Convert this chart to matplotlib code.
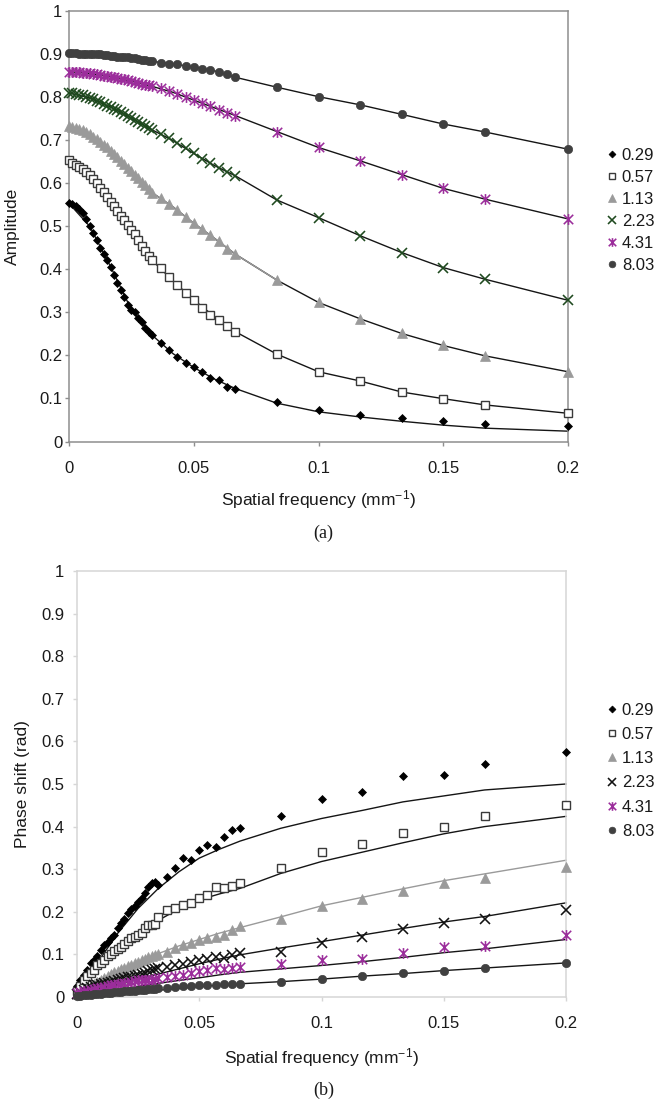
import matplotlib
matplotlib.use("Agg")
import matplotlib.pyplot as plt
from matplotlib.path import Path
from matplotlib.lines import Line2D

plt.rcParams['font.family'] = ['Liberation Sans', 'DejaVu Sans']
plt.rcParams['mathtext.fontset'] = 'custom'
plt.rcParams['mathtext.rm'] = 'Liberation Sans'
plt.rcParams['mathtext.it'] = 'Liberation Sans:italic'
plt.rcParams['mathtext.bf'] = 'Liberation Sans:bold'

# ---------------- data ----------------
freq = [0, 0.0014, 0.0028, 0.0042, 0.0056, 0.0069, 0.0083, 0.0097, 0.0111, 0.0125,
        0.0139, 0.0153, 0.0167, 0.0181, 0.0194, 0.0208, 0.0222, 0.0236, 0.025, 0.0264,
        0.0278, 0.0292, 0.0306, 0.0319, 0.0333, 0.0367, 0.04, 0.0433, 0.0467, 0.05,
        0.0533, 0.0567, 0.06, 0.0633, 0.0667, 0.0833, 0.1, 0.1167, 0.1333, 0.15,
        0.1667, 0.2]
fit_freq = [0, 0.0083, 0.0167, 0.025, 0.0333, 0.0417, 0.05, 0.0583, 0.0667, 0.0833,
            0.1, 0.1167, 0.1333, 0.15, 0.1667, 0.2]
series_labels = ['0.29', '0.57', '1.13', '2.23', '4.31', '8.03']

# (a) amplitude, measured
amp_029 = [0.553, 0.551, 0.547, 0.541, 0.530, 0.516, 0.500, 0.484, 0.467, 0.450,
           0.436, 0.421, 0.406, 0.387, 0.369, 0.352, 0.335, 0.318, 0.306, 0.301,
           0.287, 0.277, 0.264, 0.255, 0.247, 0.229, 0.2125, 0.196, 0.182, 0.172,
           0.162, 0.148, 0.142, 0.127, 0.123, 0.091, 0.0725, 0.061, 0.054, 0.048,
           0.040, 0.036]
amp_057 = [0.655, 0.648, 0.643, 0.638, 0.634, 0.627, 0.619, 0.610, 0.600, 0.590,
           0.579, 0.568, 0.557, 0.546, 0.535, 0.524, 0.514, 0.503, 0.492, 0.481,
           0.469, 0.455, 0.442, 0.430, 0.421, 0.402, 0.383, 0.363, 0.345, 0.329,
           0.309, 0.294, 0.282, 0.268, 0.255, 0.203, 0.162, 0.1405, 0.115, 0.0995,
           0.085, 0.0655]
amp_113 = [0.733, 0.731, 0.729, 0.726, 0.723, 0.720, 0.714, 0.708, 0.703, 0.696,
           0.689, 0.683, 0.675, 0.667, 0.660, 0.652, 0.644, 0.636, 0.628, 0.620,
           0.611, 0.603, 0.595, 0.587, 0.578, 0.566, 0.551, 0.538, 0.522, 0.507,
           0.494, 0.479, 0.465, 0.447, 0.435, 0.375, 0.323, 0.285, 0.251, 0.223,
           0.199, 0.162]
amp_223 = [0.810, 0.809, 0.808, 0.806, 0.804, 0.801, 0.798, 0.795, 0.792, 0.788,
           0.784, 0.780, 0.777, 0.773, 0.769, 0.765, 0.760, 0.756, 0.751, 0.747,
           0.742, 0.738, 0.733, 0.729, 0.724, 0.714, 0.704, 0.693, 0.681, 0.669,
           0.657, 0.646, 0.635, 0.626, 0.617, 0.561, 0.520, 0.478, 0.439, 0.404,
           0.377, 0.328]
amp_431 = [0.859, 0.859, 0.858, 0.858, 0.857, 0.856, 0.855, 0.854, 0.853, 0.851,
           0.850, 0.849, 0.847, 0.846, 0.844, 0.843, 0.841, 0.839, 0.837, 0.835,
           0.833, 0.831, 0.829, 0.827, 0.825, 0.820, 0.815, 0.808, 0.800, 0.793,
           0.786, 0.779, 0.771, 0.764, 0.757, 0.720, 0.683, 0.652, 0.620, 0.588,
           0.563, 0.517]
amp_803 = [0.902, 0.902, 0.902, 0.901, 0.901, 0.901, 0.900, 0.900, 0.899, 0.899,
           0.898, 0.897, 0.896, 0.895, 0.894, 0.894, 0.893, 0.892, 0.891, 0.890,
           0.889, 0.887, 0.886, 0.885, 0.883, 0.880, 0.878, 0.876, 0.873, 0.870,
           0.866, 0.863, 0.858, 0.853, 0.846, 0.823, 0.801, 0.782, 0.760, 0.7375,
           0.719, 0.679]

# (a) amplitude, fitted model
amp_fit_029 = [0.553, 0.500, 0.406, 0.306, 0.247, 0.204, 0.172, 0.145, 0.123, 0.089,
               0.069, 0.057, 0.047, 0.038, 0.031, 0.024]
amp_fit_057 = [0.655, 0.619, 0.557, 0.492, 0.421, 0.373, 0.329, 0.290, 0.255, 0.203,
               0.162, 0.1405, 0.115, 0.0995, 0.085, 0.0655]
amp_fit_113 = [0.733, 0.714, 0.675, 0.628, 0.578, 0.545, 0.507, 0.472, 0.435, 0.375,
               0.323, 0.285, 0.251, 0.223, 0.199, 0.162]
amp_fit_223 = [0.810, 0.798, 0.777, 0.751, 0.724, 0.699, 0.669, 0.641, 0.617, 0.561,
               0.520, 0.478, 0.439, 0.404, 0.377, 0.328]
amp_fit_431 = [0.859, 0.855, 0.847, 0.837, 0.825, 0.811, 0.793, 0.775, 0.757, 0.720,
               0.683, 0.652, 0.620, 0.588, 0.563, 0.517]
amp_fit_803 = [0.902, 0.900, 0.896, 0.891, 0.883, 0.877, 0.870, 0.861, 0.846, 0.823,
               0.801, 0.782, 0.760, 0.7375, 0.719, 0.679]

# (b) phase shift, measured
ph_029 = [0.025, 0.040, 0.052, 0.063, 0.080, 0.088, 0.096, 0.111, 0.122, 0.130,
          0.138, 0.145, 0.163, 0.174, 0.183, 0.198, 0.207, 0.214, 0.223, 0.232,
          0.243, 0.258, 0.268, 0.270, 0.263, 0.282, 0.302, 0.326, 0.322, 0.345,
          0.357, 0.352, 0.376, 0.393, 0.396, 0.426, 0.464, 0.4805, 0.518, 0.521,
          0.547, 0.576]
ph_057 = [0.015, 0.025, 0.040, 0.050, 0.057, 0.064, 0.074, 0.080, 0.088, 0.096,
          0.102, 0.108, 0.112, 0.118, 0.125, 0.131, 0.138, 0.142, 0.146, 0.151,
          0.161, 0.168, 0.170, 0.172, 0.187, 0.204, 0.208, 0.216, 0.220, 0.232,
          0.240, 0.259, 0.255, 0.261, 0.267, 0.3035, 0.341, 0.359, 0.384, 0.400,
          0.425, 0.451]
ph_113 = [0.008, 0.012, 0.016, 0.020, 0.025, 0.030, 0.036, 0.041, 0.045, 0.049,
          0.053, 0.059, 0.062, 0.066, 0.069, 0.072, 0.075, 0.079, 0.082, 0.086,
          0.089, 0.094, 0.097, 0.099, 0.102, 0.106, 0.114, 0.121, 0.126, 0.133,
          0.138, 0.142, 0.146, 0.157, 0.166, 0.183, 0.2136, 0.229, 0.249, 0.268,
          0.2786, 0.306]
ph_223 = [0.008, 0.012, 0.016, 0.020, 0.024, 0.027, 0.029, 0.031, 0.032, 0.034,
          0.036, 0.038, 0.040, 0.042, 0.044, 0.046, 0.048, 0.049, 0.051, 0.053,
          0.057, 0.061, 0.064, 0.065, 0.067, 0.070, 0.074, 0.078, 0.082, 0.087,
          0.090, 0.095, 0.092, 0.099, 0.103, 0.106, 0.126, 0.140, 0.160, 0.173,
          0.183, 0.204]
ph_431 = [0.010, 0.012, 0.013, 0.015, 0.017, 0.018, 0.020, 0.022, 0.024, 0.026,
          0.028, 0.029, 0.030, 0.031, 0.032, 0.033, 0.035, 0.037, 0.039, 0.040,
          0.041, 0.041, 0.041, 0.042, 0.044, 0.048, 0.050, 0.052, 0.056, 0.060,
          0.063, 0.067, 0.065, 0.067, 0.071, 0.0775, 0.0869, 0.0884, 0.1025, 0.118,
          0.1205, 0.1455]
ph_803 = [0.002, 0.003, 0.004, 0.005, 0.005, 0.006, 0.007, 0.008, 0.009, 0.009,
          0.010, 0.011, 0.012, 0.012, 0.013, 0.014, 0.014, 0.015, 0.016, 0.016,
          0.017, 0.018, 0.018, 0.019, 0.020, 0.021, 0.023, 0.025, 0.026, 0.027,
          0.028, 0.029, 0.030, 0.031, 0.031, 0.0345, 0.0423, 0.050, 0.0556, 0.0618,
          0.0689, 0.0806]

# (b) phase shift, fitted model
ph_fit_029 = [0.010, 0.080, 0.150, 0.208, 0.255, 0.294, 0.326, 0.347, 0.366, 0.396,
              0.419, 0.438, 0.458, 0.472, 0.486, 0.500]
ph_fit_057 = [0.0, 0.064, 0.112, 0.150, 0.180, 0.207, 0.228, 0.242, 0.255, 0.290,
              0.318, 0.340, 0.362, 0.383, 0.400, 0.424]
ph_fit_113 = [0.0, 0.030, 0.058, 0.082, 0.102, 0.120, 0.135, 0.150, 0.163, 0.188,
              0.214, 0.234, 0.254, 0.273, 0.289, 0.321]
ph_fit_223 = [0.0, 0.015, 0.029, 0.042, 0.054, 0.066, 0.078, 0.089, 0.099, 0.115,
              0.130, 0.1455, 0.161, 0.176, 0.189, 0.221]
ph_fit_431 = [0.0, 0.009, 0.017, 0.025, 0.032, 0.039, 0.045, 0.052, 0.058, 0.066,
              0.074, 0.083, 0.093, 0.104, 0.113, 0.135]
ph_fit_803 = [0.0, 0.004, 0.008, 0.012, 0.016, 0.020, 0.024, 0.028, 0.031, 0.036,
              0.042, 0.049, 0.055, 0.062, 0.068, 0.080]

x_ticks = [0, 0.05, 0.1, 0.15, 0.2]
x_ticklabels = ['0', '0.05', '0.1', '0.15', '0.2']
y_ticks = [0, 0.1, 0.2, 0.3, 0.4, 0.5, 0.6, 0.7, 0.8, 0.9, 1.0]
y_ticklabels = ['0', '0.1', '0.2', '0.3', '0.4', '0.5', '0.6', '0.7', '0.8', '0.9', '1']

# ---------------- styles ----------------
star = Path([(-1, -1), (1, 1), (-1, 1), (1, -1), (0, -1.15), (0, 1.15)],
            [Path.MOVETO, Path.LINETO, Path.MOVETO, Path.LINETO, Path.MOVETO, Path.LINETO])
PURPLE = '#9b2d9b'
GREEN = '#1f4a1f'


def styles(panel, scale=1.0):
    x_col = GREEN if panel == 'a' else '#111111'
    return [
        dict(marker='D', ms=4.4 * scale, mfc='#000000', mec='#000000', mew=0.5),
        dict(marker='s', ms=5.3 * scale, mfc='white', mec='#3a3a3a', mew=1.0),
        dict(marker='^', ms=7.0 * scale, mfc='#9a9a9a', mec='#9a9a9a', mew=0.5),
        dict(marker='x', ms=7.4 * scale, mfc='none', mec=x_col, mew=1.15),
        dict(marker=star, ms=7.8 * scale, mfc='none', mec=PURPLE, mew=1.15),
        dict(marker='o', ms=6.0 * scale, mfc='#404040', mec='#404040', mew=0.5),
    ]


W, H = 659, 1100
fig = plt.figure(figsize=(W / 100, H / 100), dpi=100)


def px_axes(l, r, t, b):
    return fig.add_axes([l / W, 1 - b / H, (r - l) / W, (b - t) / H])


ax_a = px_axes(69, 568, 11, 441.5)
ax_b = px_axes(77, 566, 571, 997)

amp_data = [amp_029, amp_057, amp_113, amp_223, amp_431, amp_803]
amp_fit = [amp_fit_029, amp_fit_057, amp_fit_113, amp_fit_223, amp_fit_431, amp_fit_803]
ph_data = [ph_029, ph_057, ph_113, ph_223, ph_431, ph_803]
ph_fit = [ph_fit_029, ph_fit_057, ph_fit_113, ph_fit_223, ph_fit_431, ph_fit_803]

LINE = '#151515'
GRAYLINE = '#9a9a9a'

# panel (a)
for i, (d, f, st) in enumerate(zip(amp_data, amp_fit, styles('a'))):
    ax_a.plot(fit_freq, f, color=LINE, lw=1.0, zorder=2, clip_on=False)
    if i == 2:
        ax_a.plot(fit_freq[:10], f[:10], color=GRAYLINE, lw=1.0, zorder=2.1, clip_on=False)
    ax_a.plot(freq, d, linestyle='none', zorder=3 + i, clip_on=False, **st)

# panel (b)
for i, (d, f, st) in enumerate(zip(ph_data, ph_fit, styles('b'))):
    ax_b.plot(fit_freq, f, color=GRAYLINE if i == 2 else LINE, lw=1.0, zorder=2, clip_on=False)
    ax_b.plot(freq, d, linestyle='none', zorder=3 + i, clip_on=False, **st)


def format_axes(ax, spine_col, ypad, ylabel, ylab_x, xlab_y):
    ax.set_xlim(0, 0.2)
    ax.set_ylim(0, 1)
    ax.set_xticks(x_ticks)
    ax.set_xticklabels(x_ticklabels)
    ax.set_yticks(y_ticks)
    ax.set_yticklabels(y_ticklabels)
    for s in ax.spines.values():
        s.set_color(spine_col)
        s.set_linewidth(1.1)
    ax.tick_params(axis='both', direction='out', length=3.2, width=1.0, color=spine_col,
                   labelsize=12, labelcolor='#1a1a1a')
    ax.tick_params(axis='x', pad=10.5)
    ax.tick_params(axis='y', pad=ypad)
    ax.set_xlabel('Spatial frequency (mm$^{-1}$)', fontsize=12.5, color='#1a1a1a')
    ax.set_ylabel(ylabel, fontsize=12.5, color='#1a1a1a')
    ax.xaxis.set_label_coords(0.5, xlab_y)
    ax.yaxis.set_label_coords(ylab_x, 0.5)


format_axes(ax_a, '#8e8e8e', 1.5, 'Amplitude', -0.098, -0.108)
format_axes(ax_b, '#d6d6d6', 6.0, 'Phase shift (rad)', -0.096, -0.115)


def add_legend(ax, panel, top_px, spacing):
    handles = [Line2D([], [], linestyle='none', **st) for st in styles(panel, 0.8)]
    leg = ax.legend(handles, series_labels, loc='upper left',
                    bbox_to_anchor=(606 / W, 1 - top_px / H), bbox_transform=fig.transFigure,
                    frameon=False, fontsize=12, handlelength=0.7, handletextpad=0.25,
                    labelspacing=spacing, borderpad=0, borderaxespad=0)
    for t in leg.get_texts():
        t.set_color('#1a1a1a')


add_legend(ax_a, 'a', 148, 0.42)
add_legend(ax_b, 'b', 703, 0.55)

fig.text(323 / W, 1 - 533 / H, '(a)', ha='center', va='center', fontsize=13,
         family='Liberation Serif', color='#1a1a1a')
fig.text(324 / W, 1 - 1090 / H, '(b)', ha='center', va='center', fontsize=13,
         family='Liberation Serif', color='#1a1a1a')

fig.savefig('out.png', dpi=100, facecolor='white')
